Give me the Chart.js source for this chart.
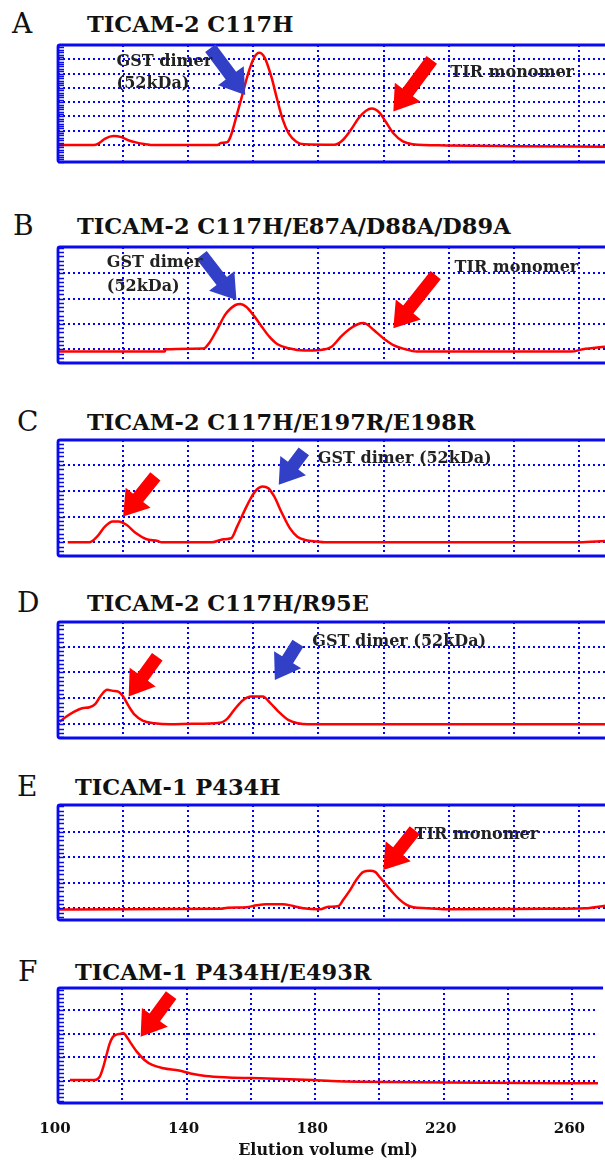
<!DOCTYPE html>
<html>
<head>
  <title>Gel filtration profiles</title>
  <meta charset="utf-8" />
  <script src="https://cdn.jsdelivr.net/npm/chart.js"></script>
  <style>
    body {
      margin: 0;
      background: #fff;
      width: 605px;
      height: 1162px;
      overflow: hidden;
      position: relative;
      font-family: "DejaVu Serif", serif;
    }
    canvas { position: absolute; left: 0; }
    .letter {
      position: absolute;
      font-size: 28px;
      line-height: 28px;
      color: #111;
    }
    .name {
      position: absolute;
      font-size: 22.5px;
      line-height: 22.5px;
      font-weight: bold;
      color: #111;
      white-space: nowrap;
    }
  </style>
</head>
<body>
  <script>
    // panel labels
    const panelLetters = ['A', 'B', 'C', 'D', 'E', 'F'];
    const panelNames = [
      'TICAM-2 C117H',
      'TICAM-2 C117H/E87A/D88A/D89A',
      'TICAM-2 C117H/E197R/E198R',
      'TICAM-2 C117H/R95E',
      'TICAM-1 P434H',
      'TICAM-1 P434H/E493R'
    ];
    const xTickLabels = [100, 140, 180, 220, 260];
    const xTitle = 'Elution volume (ml)';

    // elution volume (ml) and absorbance (grid units)
    const volA = [100, 111, 112.5, 114.5, 117, 119.5, 122, 124.5, 127, 129, 149, 150, 152, 153, 154.8, 156.6, 158.4, 160.2, 161.8, 163.5, 165.5, 167.3, 169, 170.9, 173.2, 175.6, 185, 187.5, 189.9, 192.3, 194.6, 196.4, 198.8, 200.6, 203, 205.9, 208.9, 219, 240, 268];
    const absA = [0, 0, 0.12, 0.45, 0.63, 0.55, 0.3, 0.15, 0.06, 0, 0, 0.14, 0.2, 0.6, 2.0, 3.5, 5.0, 6.1, 6.45, 6.1, 4.8, 3.2, 1.8, 0.8, 0.23, 0.05, 0.02, 0.35, 1.05, 1.87, 2.4, 2.55, 2.25, 1.65, 0.82, 0.25, 0.06, -0.03, -0.08, -0.12];

    const volB = [100, 132.8, 133, 144.7, 146.5, 148.9, 151.3, 153.1, 154.5, 156, 157.8, 160.2, 162.6, 164.9, 167.3, 170.9, 175.6, 180.4, 184, 186.9, 189.9, 192.9, 193.8, 195, 197, 200, 203, 206.5, 210.1, 257.6, 261.2, 268];
    const absB = [-0.09, -0.09, 0, 0.03, 0.26, 0.79, 1.36, 1.62, 1.75, 1.79, 1.68, 1.32, 0.89, 0.5, 0.21, 0.04, -0.05, -0.03, 0.1, 0.5, 0.83, 1.03, 1.04, 0.98, 0.76, 0.43, 0.17, 0.01, -0.09, -0.09, 0, 0.1];

    const volC = [103, 109.6, 112, 114.4, 116.8, 118.6, 121, 124, 127, 130.6, 131.8, 147.3, 150.8, 153.2, 155, 157.4, 159.2, 161, 162.8, 164.6, 166.4, 168.8, 171.2, 173.5, 175.9, 179.5, 181.9, 260, 268];
    const absC = [0, 0, 0.22, 0.61, 0.81, 0.81, 0.68, 0.35, 0.13, 0.05, 0, 0, 0.12, 0.16, 0.61, 1.26, 1.71, 2.04, 2.17, 2.1, 1.78, 1.13, 0.55, 0.22, 0.09, 0.03, 0, 0, 0.05];

    const volD = [100.5, 102.6, 105, 107.4, 109.7, 111.5, 113.3, 115.1, 116.9, 118.5, 120, 121.8, 123.6, 126, 129.6, 134.4, 141.2, 149.7, 152.1, 154.5, 156.9, 159.3, 162.9, 165.3, 167.7, 170.7, 173.7, 176.7, 268];
    const absD = [0.1, 0.3, 0.49, 0.62, 0.66, 0.79, 1.13, 1.33, 1.29, 1.26, 1.07, 0.68, 0.36, 0.14, 0.04, 0, 0.02, 0.06, 0.23, 0.62, 0.94, 1.07, 1.07, 0.81, 0.49, 0.17, 0.04, 0, 0];

    const volE = [100, 150, 152, 157.9, 161, 164, 169, 172.2, 175.3, 180.5, 183, 186.2, 187.6, 189.7, 191.7, 193.8, 195.8, 197.4, 198.9, 200.9, 203, 205, 207.1, 209.1, 213.2, 219.4, 250, 262, 268];
    const absE = [-0.05, -0.02, 0.02, 0.04, 0.12, 0.16, 0.16, 0.09, 0, -0.04, 0.06, 0.09, 0.33, 0.71, 1.13, 1.43, 1.47, 1.43, 1.21, 0.91, 0.59, 0.33, 0.13, 0.04, 0, -0.04, -0.02, 0, 0.1];

    const volF = [103.7, 111.4, 113, 114, 115, 116, 117, 118, 119.5, 120.3, 121, 122.7, 124.5, 126.9, 129.3, 132.8, 137.6, 141.2, 145.9, 153, 165, 179.2, 185.1, 193.5, 232.7, 268];
    const absF = [0.04, 0.04, 0.18, 0.55, 1.05, 1.55, 1.85, 1.95, 2.0, 2.03, 1.94, 1.59, 1.24, 0.89, 0.68, 0.54, 0.44, 0.32, 0.21, 0.15, 0.11, 0.04, 0, -0.03, -0.07, -0.1];

    const volumes = [volA, volB, volC, volD, volE, volF];
    const signals = [absA, absB, absC, absD, absE, absF];

    // layout of each panel (pixels) and its y range
    const panels = [
      { top: 45,  bottom: 162,  ymin: -1.19, ymax: 7.0,  lastGrid: 6, titleY: 24,  nameX: 87, letterX: 12 },
      { top: 247, bottom: 363,  ymin: -0.54, ymax: 4.04, lastGrid: 3, titleY: 226, nameX: 77, letterX: 13 },
      { top: 440, bottom: 556,  ymin: -0.53, ymax: 3.97, lastGrid: 3, titleY: 422, nameX: 87, letterX: 17 },
      { top: 622, bottom: 738,  ymin: -0.53, ymax: 3.95, lastGrid: 3, titleY: 603, nameX: 87, letterX: 17 },
      { top: 805, bottom: 920,  ymin: -0.46, ymax: 4.05, lastGrid: 3, titleY: 787, nameX: 75, letterX: 17 },
      { top: 988, bottom: 1103, ymin: -0.93, ymax: 3.93, lastGrid: 3, titleY: 972, nameX: 75, letterX: 18 }
    ];

    const BLUE_ARROW = '#3240c8';
    const RED_ARROW = '#ff0000';

    // arrows and notes, in data units (ml, grid units)
    const notes = [
      { arrows: [[146.8, 6.78, 157.5, 3.5, BLUE_ARROW], [214.8, 5.96, 203, 2.34, RED_ARROW]],
        texts: [['GST dimer', 118, 5.82], ['(52kDa)', 118, 4.3], ['TIR monomer', 220.5, 5.06]] },
      { arrows: [[144.1, 3.72, 154.8, 1.95, BLUE_ARROW], [216, 2.93, 203, 0.83, RED_ARROW]],
        texts: [['GST dimer', 115, 3.4], ['(52kDa)', 115, 2.47], ['TIR monomer', 221.8, 3.2]] },
      { arrows: [[129.9, 2.56, 120, 1.0, RED_ARROW], [175.5, 3.53, 167.8, 2.23, BLUE_ARROW]],
        texts: [['GST dimer (52kDa)', 179.8, 3.23]] },
      { arrows: [[130.5, 2.61, 121.7, 1.07, RED_ARROW], [173.7, 3.13, 166.6, 1.71, BLUE_ARROW]],
        texts: [['GST dimer (52kDa)', 178.1, 3.19]] },
      { arrows: [[209.6, 3.06, 199.9, 1.5, RED_ARROW]],
        texts: [['TIR monomer', 209.5, 2.86]] },
      { arrows: [[135.2, 3.63, 125.7, 1.87, RED_ARROW]],
        texts: [] }
    ];

    function drawArrow(ctx, x1, y1, x2, y2, color) {
      const dx = x2 - x1, dy = y2 - y1, len = Math.hypot(dx, dy);
      const ux = dx / len, uy = dy / len, px = -uy, py = ux;
      const hl = 24, hw = 16, sw = 6.5;
      const bx = x2 - ux * hl, by = y2 - uy * hl;
      ctx.beginPath();
      ctx.moveTo(x1 + px * sw, y1 + py * sw);
      ctx.lineTo(bx + px * sw, by + py * sw);
      ctx.lineTo(bx + px * hw, by + py * hw);
      ctx.lineTo(x2, y2);
      ctx.lineTo(bx - px * hw, by - py * hw);
      ctx.lineTo(bx - px * sw, by - py * sw);
      ctx.lineTo(x1 - px * sw, y1 - py * sw);
      ctx.closePath();
      ctx.fillStyle = color;
      ctx.fill();
    }

    // frame, minor ticks on the left, arrows and notes
    const decor = {
      id: 'decor',
      afterDatasetsDraw(chart, args, opts) {
        const ctx = chart.ctx;
        const a = chart.chartArea;
        const xs = chart.scales.x, ys = chart.scales.y;
        ctx.save();
        ctx.strokeStyle = '#0a0af0';
        ctx.lineWidth = 1.5;
        ctx.beginPath();
        for (let v = Math.ceil(ys.min * 6) / 6; v <= ys.max; v += 1 / 6) {
          const y = Math.round(ys.getPixelForValue(v)) + 0.5;
          ctx.moveTo(a.left, y);
          ctx.lineTo(a.left + 6, y);
        }
        ctx.stroke();

        ctx.lineWidth = 2.8;
        ctx.beginPath();
        ctx.moveTo(a.right + 5, a.top);
        ctx.lineTo(a.left + 2, a.top);
        ctx.quadraticCurveTo(a.left, a.top, a.left, a.top + 2);
        ctx.lineTo(a.left, a.bottom - 2);
        ctx.quadraticCurveTo(a.left, a.bottom, a.left + 2, a.bottom);
        ctx.lineTo(a.right + 5, a.bottom);
        ctx.stroke();

        const n = opts.notes;
        n.arrows.forEach(([x1, y1, x2, y2, c]) => {
          drawArrow(ctx, xs.getPixelForValue(x1), ys.getPixelForValue(y1),
                    xs.getPixelForValue(x2), ys.getPixelForValue(y2), c);
        });
        ctx.fillStyle = '#222';
        ctx.font = 'bold 16px "DejaVu Serif"';
        ctx.textAlign = 'left';
        ctx.textBaseline = 'middle';
        n.texts.forEach(([t, x, y]) => {
          ctx.fillText(t, xs.getPixelForValue(x), ys.getPixelForValue(y));
        });
        ctx.restore();
      }
    };

    panels.forEach((p, i) => {
      const isLast = i === panels.length - 1;

      const letter = document.createElement('div');
      letter.className = 'letter';
      letter.textContent = panelLetters[i];
      letter.style.left = p.letterX + 'px';
      letter.style.top = (p.titleY - 14) + 'px';
      document.body.appendChild(letter);

      const name = document.createElement('div');
      name.className = 'name';
      name.textContent = panelNames[i];
      name.style.left = p.nameX + 'px';
      name.style.top = (p.titleY - 11) + 'px';
      document.body.appendChild(name);

      const canvas = document.createElement('canvas');
      const top = p.top - 3;
      const height = isLast ? 1162 - top : (p.bottom - p.top) + 6;
      canvas.width = 605;
      canvas.height = height;
      canvas.style.top = top + 'px';
      canvas.style.width = '605px';
      canvas.style.height = height + 'px';
      document.body.appendChild(canvas);

      const pts = volumes[i].map((v, k) => ({ x: v, y: signals[i][k] }));

      new Chart(canvas.getContext('2d'), {
        type: 'line',
        data: {
          datasets: [{
            data: pts,
            borderColor: '#ff0000',
            borderWidth: 2.5,
            pointRadius: 0,
            cubicInterpolationMode: 'monotone',
            fill: false
          }]
        },
        plugins: [decor],
        options: {
          responsive: false,
          animation: false,
          layout: { padding: { left: 58, right: 0, top: 3, bottom: isLast ? 0 : 3 } },
          plugins: {
            legend: { display: false },
            tooltip: { enabled: false },
            decor: { notes: notes[i] }
          },
          scales: {
            x: {
              type: 'linear',
              min: 100,
              max: 268,
              afterFit: (s) => { s.height = isLast ? 59 : 0; },
              grid: { color: '#0000ff', lineWidth: 2, drawTicks: false },
              border: { display: false, dash: [2, 3] },
              ticks: {
                display: isLast,
                stepSize: 20,
                includeBounds: false,
                autoSkip: false,
                maxRotation: 0,
                padding: 17,
                labelOffset: -3,
                color: '#111',
                font: { family: 'DejaVu Serif', weight: 'bold', size: 15 },
                callback: (v) => xTickLabels.includes(v) ? String(v) : ''
              },
              title: {
                display: isLast,
                text: xTitle,
                color: '#111',
                padding: { top: 0, bottom: 2 },
                font: { family: 'DejaVu Serif', weight: 'bold', size: 16 }
              }
            },
            y: {
              min: p.ymin,
              max: p.ymax,
              afterFit: (s) => { s.width = 0; },
              grid: {
                color: (c) => (c.tick.value < 0 || c.tick.value > p.lastGrid) ? 'rgba(0,0,0,0)' : '#0000ff',
                lineWidth: 2,
                drawTicks: false
              },
              border: { display: false, dash: [2, 3] },
              ticks: { display: false, stepSize: 1, includeBounds: false }
            }
          }
        }
      });
    });
  </script>
</body>
</html>
